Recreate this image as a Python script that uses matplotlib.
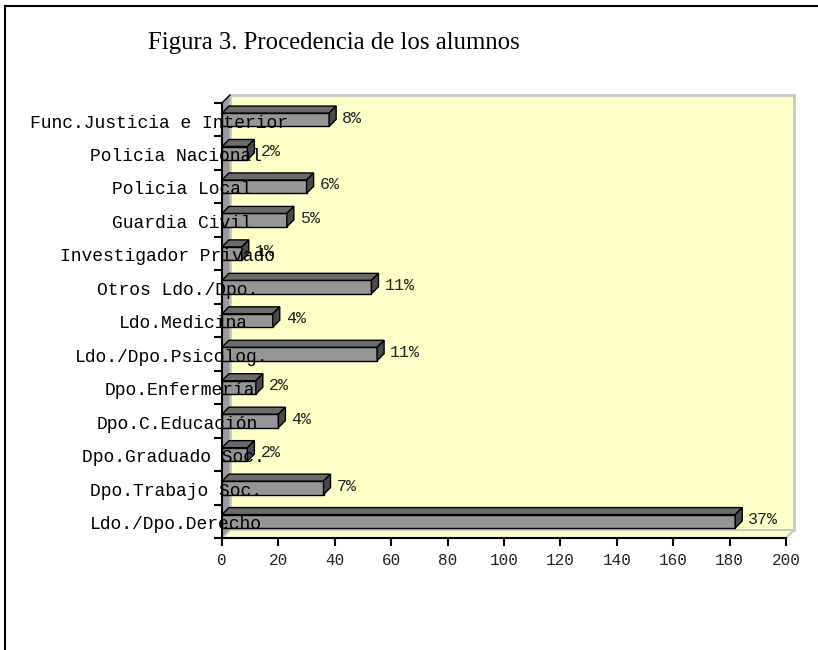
import matplotlib
matplotlib.use("Agg")
import matplotlib.pyplot as plt
import numpy as np

# data (bottom to top)
categories = ["Ldo./Dpo.Derecho", "Dpo.Trabajo Soc.", "Dpo.Graduado Soc.",
              "Dpo.C.Educación", "Dpo.Enfermería", "Ldo./Dpo.Psicolog.",
              "Ldo.Medicina", "Otros Ldo./Dpo.", "Investigador Privado",
              "Guardia Civil", "Policia Local", "Policia Nacional",
              "Func.Justicia e Interior"]
counts = [182, 36, 9, 20, 12, 55, 18, 53, 7, 23, 30, 9, 38]
pct_labels = ["37%", "7%", "2%", "4%", "2%", "11%", "4%", "11%", "1%",
              "5%", "6%", "2%", "8%"]
xticks = [0, 20, 40, 60, 80, 100, 120, 140, 160, 180, 200]

W, H = 818, 650
fig = plt.figure(figsize=(W / 100, H / 100), dpi=100)
ax_l, ax_r, ax_t, ax_b = 222, 786, 103, 538
ax = fig.add_axes([ax_l / W, 1 - ax_b / H, (ax_r - ax_l) / W, (ax_b - ax_t) / H])

n = len(categories)
xmax = 200
ax.set_xlim(0, xmax)
ax.set_ylim(-0.5, n - 0.5)

# pixel -> data unit helpers
px_x = xmax / (ax_r - ax_l)
px_y = n / (ax_b - ax_t)
wdx, wdy = 8 * px_x, 8 * px_y      # wall depth
bdx, bdy = 7 * px_x, 7 * px_y      # bar depth

ax.set_facecolor("none")
for s in ax.spines.values():
    s.set_visible(False)

y0, y1 = -0.5, n - 0.5
# back wall
ax.fill([wdx, xmax + wdx, xmax + wdx, wdx], [y0 + wdy, y0 + wdy, y1 + wdy, y1 + wdy],
        facecolor="#ffffc8", edgecolor="#c8c8c8", lw=2, clip_on=False, zorder=0)
# floor
ax.fill([0, xmax, xmax + wdx, wdx], [y0, y0, y0 + wdy, y0 + wdy],
        facecolor="#ffffc8", edgecolor="#c8c8c8", lw=1.5, clip_on=False, zorder=0.5)
# side wall
ax.fill([0, wdx, wdx, 0], [y0, y0 + wdy, y1 + wdy, y1],
        facecolor="#9a9a9a", edgecolor="#c0c0c0", lw=1, clip_on=False, zorder=0.6)

# bars
bh = 0.4
for i, v in enumerate(counts):
    b, t = i - bh / 2, i + bh / 2
    ax.fill([0, v, v, 0], [b, b, t, t], facecolor="#969696", edgecolor="black",
            lw=1, clip_on=False, zorder=3)
    ax.fill([0, v, v + bdx, bdx], [t, t, t + bdy, t + bdy], facecolor="#6b6b6b",
            edgecolor="black", lw=1, clip_on=False, zorder=3)
    ax.fill([v, v + bdx, v + bdx, v], [b, b + bdy, t + bdy, t], facecolor="#4a4a4a",
            edgecolor="black", lw=1, clip_on=False, zorder=3)
    ax.annotate(pct_labels[i], (v + bdx, i + 0.05), xytext=(6, 0),
                textcoords="offset pixels", ha="left", va="center",
                family="Liberation Mono", fontsize=12, color="#222222", zorder=5)

# axes lines
ax.plot([0, 0], [y0, y1], color="black", lw=1.5, clip_on=False, zorder=4)
ax.plot([0, xmax], [y0, y0], color="black", lw=1.5, clip_on=False, zorder=4)
ax.plot([0, wdx], [y1, y1 + wdy], color="black", lw=1, clip_on=False, zorder=4)

ax.set_xticks(xticks)
ax.set_xticklabels([str(t) for t in xticks], family="Liberation Mono", fontsize=11.5,
                   color="#222222")
ax.tick_params(axis="x", length=6, width=1.5, direction="out", pad=5)
ax.set_yticks(np.arange(-0.5, n, 1.0))
ax.set_yticklabels([])
ax.tick_params(axis="y", length=6, width=1.5, direction="out")

# category labels (drawn overlapping the bars like the original)
for i, name in enumerate(categories):
    ax.annotate(name, (0, i - 0.1), xytext=(-14 - 7.4 * len(name), 0),
                textcoords="offset pixels", ha="left", va="center",
                family="Liberation Mono", fontsize=13, color="black", zorder=6,
                annotation_clip=False)

fig.text(148 / W, 1 - 43 / H, "Figura 3. Procedencia de los alumnos",
         family="Liberation Serif", fontsize=17.8, ha="left", va="center")

# outer frame (left and top only)
fig.add_artist(plt.Line2D([5 / W, 5 / W], [0, 1 - 6 / H], color="black", lw=1.5,
                          transform=fig.transFigure))
fig.add_artist(plt.Line2D([5 / W, 1], [1 - 6 / H, 1 - 6 / H], color="black", lw=1.5,
                          transform=fig.transFigure))

fig.savefig("out.png", dpi=100)
